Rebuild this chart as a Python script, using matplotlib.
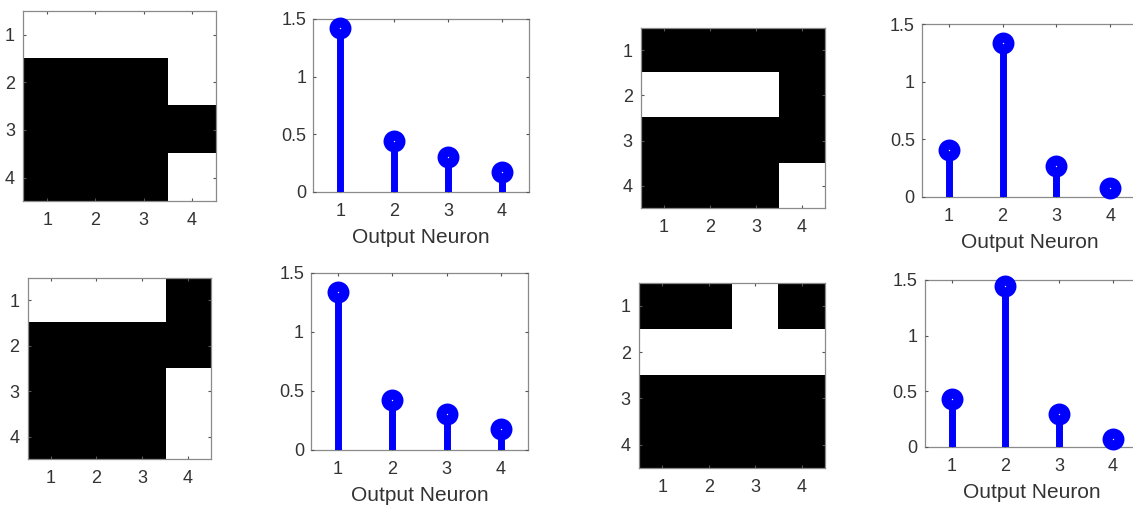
import numpy as np
import matplotlib
matplotlib.use("Agg")
import matplotlib.pyplot as plt

plt.rcParams['font.family'] = ['Liberation Sans', 'DejaVu Sans']

# Data (1 = white pixel, 0 = black pixel)
pattern_1 = [[1, 1, 1, 1],
             [0, 0, 0, 1],
             [0, 0, 0, 0],
             [0, 0, 0, 1]]
pattern_2 = [[0, 0, 0, 0],
             [1, 1, 1, 0],
             [0, 0, 0, 0],
             [0, 0, 0, 1]]
pattern_3 = [[1, 1, 1, 0],
             [0, 0, 0, 0],
             [0, 0, 0, 1],
             [0, 0, 0, 1]]
pattern_4 = [[0, 0, 1, 0],
             [1, 1, 1, 1],
             [0, 0, 0, 0],
             [0, 0, 0, 0]]

neurons = [1, 2, 3, 4]
response_1 = [1.42, 0.44, 0.30, 0.17]
response_2 = [0.41, 1.34, 0.27, 0.08]
response_3 = [1.34, 0.42, 0.30, 0.17]
response_4 = [0.43, 1.45, 0.29, 0.07]

yticks = [0, 0.5, 1, 1.5]
ytick_labels = ["0", "0.5", "1", "1.5"]
xlabel_text = "Output Neuron"

W, H = 1133, 508
fig = plt.figure(figsize=(W / 100, H / 100), dpi=100)

SPINE = "#8a8a8a"
TXT = "#333333"


def rect(l, t, r, b):
    return [l / W, 1 - b / H, (r - l) / W, (b - t) / H]


def style(ax):
    for s in ax.spines.values():
        s.set_color(SPINE)
        s.set_linewidth(0.9)
    ax.tick_params(direction='in', length=2.5, width=0.8, color="#555555",
                   top=True, right=True, labelsize=13, labelcolor=TXT)


def image_panel(box, pat):
    ax = fig.add_axes(rect(*box))
    ax.imshow(np.array(pat), cmap='gray', vmin=0, vmax=1, aspect='auto',
              extent=[0.5, 4.5, 4.5, 0.5], interpolation='nearest')
    ax.set_xlim(0.5, 4.5)
    ax.set_ylim(4.5, 0.5)
    ax.set_xticks(neurons)
    ax.set_yticks(neurons)
    style(ax)
    ax.tick_params(axis='x', pad=8)
    ax.tick_params(axis='y', pad=6)
    return ax


def stem_panel(box, vals):
    ax = fig.add_axes(rect(*box))
    ml, sl, bl = ax.stem(neurons, vals, basefmt=' ')
    plt.setp(sl, color='#0000ff', linewidth=5)
    plt.setp(ml, color='#0000ff', marker='o', markersize=8.6,
             markeredgewidth=7.2, markerfacecolor='white',
             markeredgecolor='#0000ff', zorder=3, clip_on=False)
    ax.set_xlim(0.5, 4.5)
    ax.set_ylim(0, 1.5)
    ax.set_xticks(neurons)
    ax.set_yticks(yticks)
    ax.set_yticklabels(ytick_labels)
    style(ax)
    ax.tick_params(axis='x', pad=8)
    ax.tick_params(axis='y', pad=5)
    ax.set_xlabel(xlabel_text, fontsize=15, color=TXT, labelpad=6)
    for sp in ax.spines.values():
        sp.set_zorder(0.5)
    return ax


image_panel((23.3, 11, 215.7, 201.3), pattern_1)
stem_panel((313.3, 19, 529, 191.7), response_1)
image_panel((641, 27.7, 825, 208.3), pattern_2)
stem_panel((921.7, 24.3, 1137.2, 196.7), response_2)

image_panel((27.6, 277.7, 211, 459.3), pattern_3)
stem_panel((311, 272.7, 528, 449.5), response_3)
image_panel((639, 282.7, 825, 467.7), pattern_4)
stem_panel((924.6, 280, 1140, 446.5), response_4)

fig.savefig("out.png", dpi=100)
